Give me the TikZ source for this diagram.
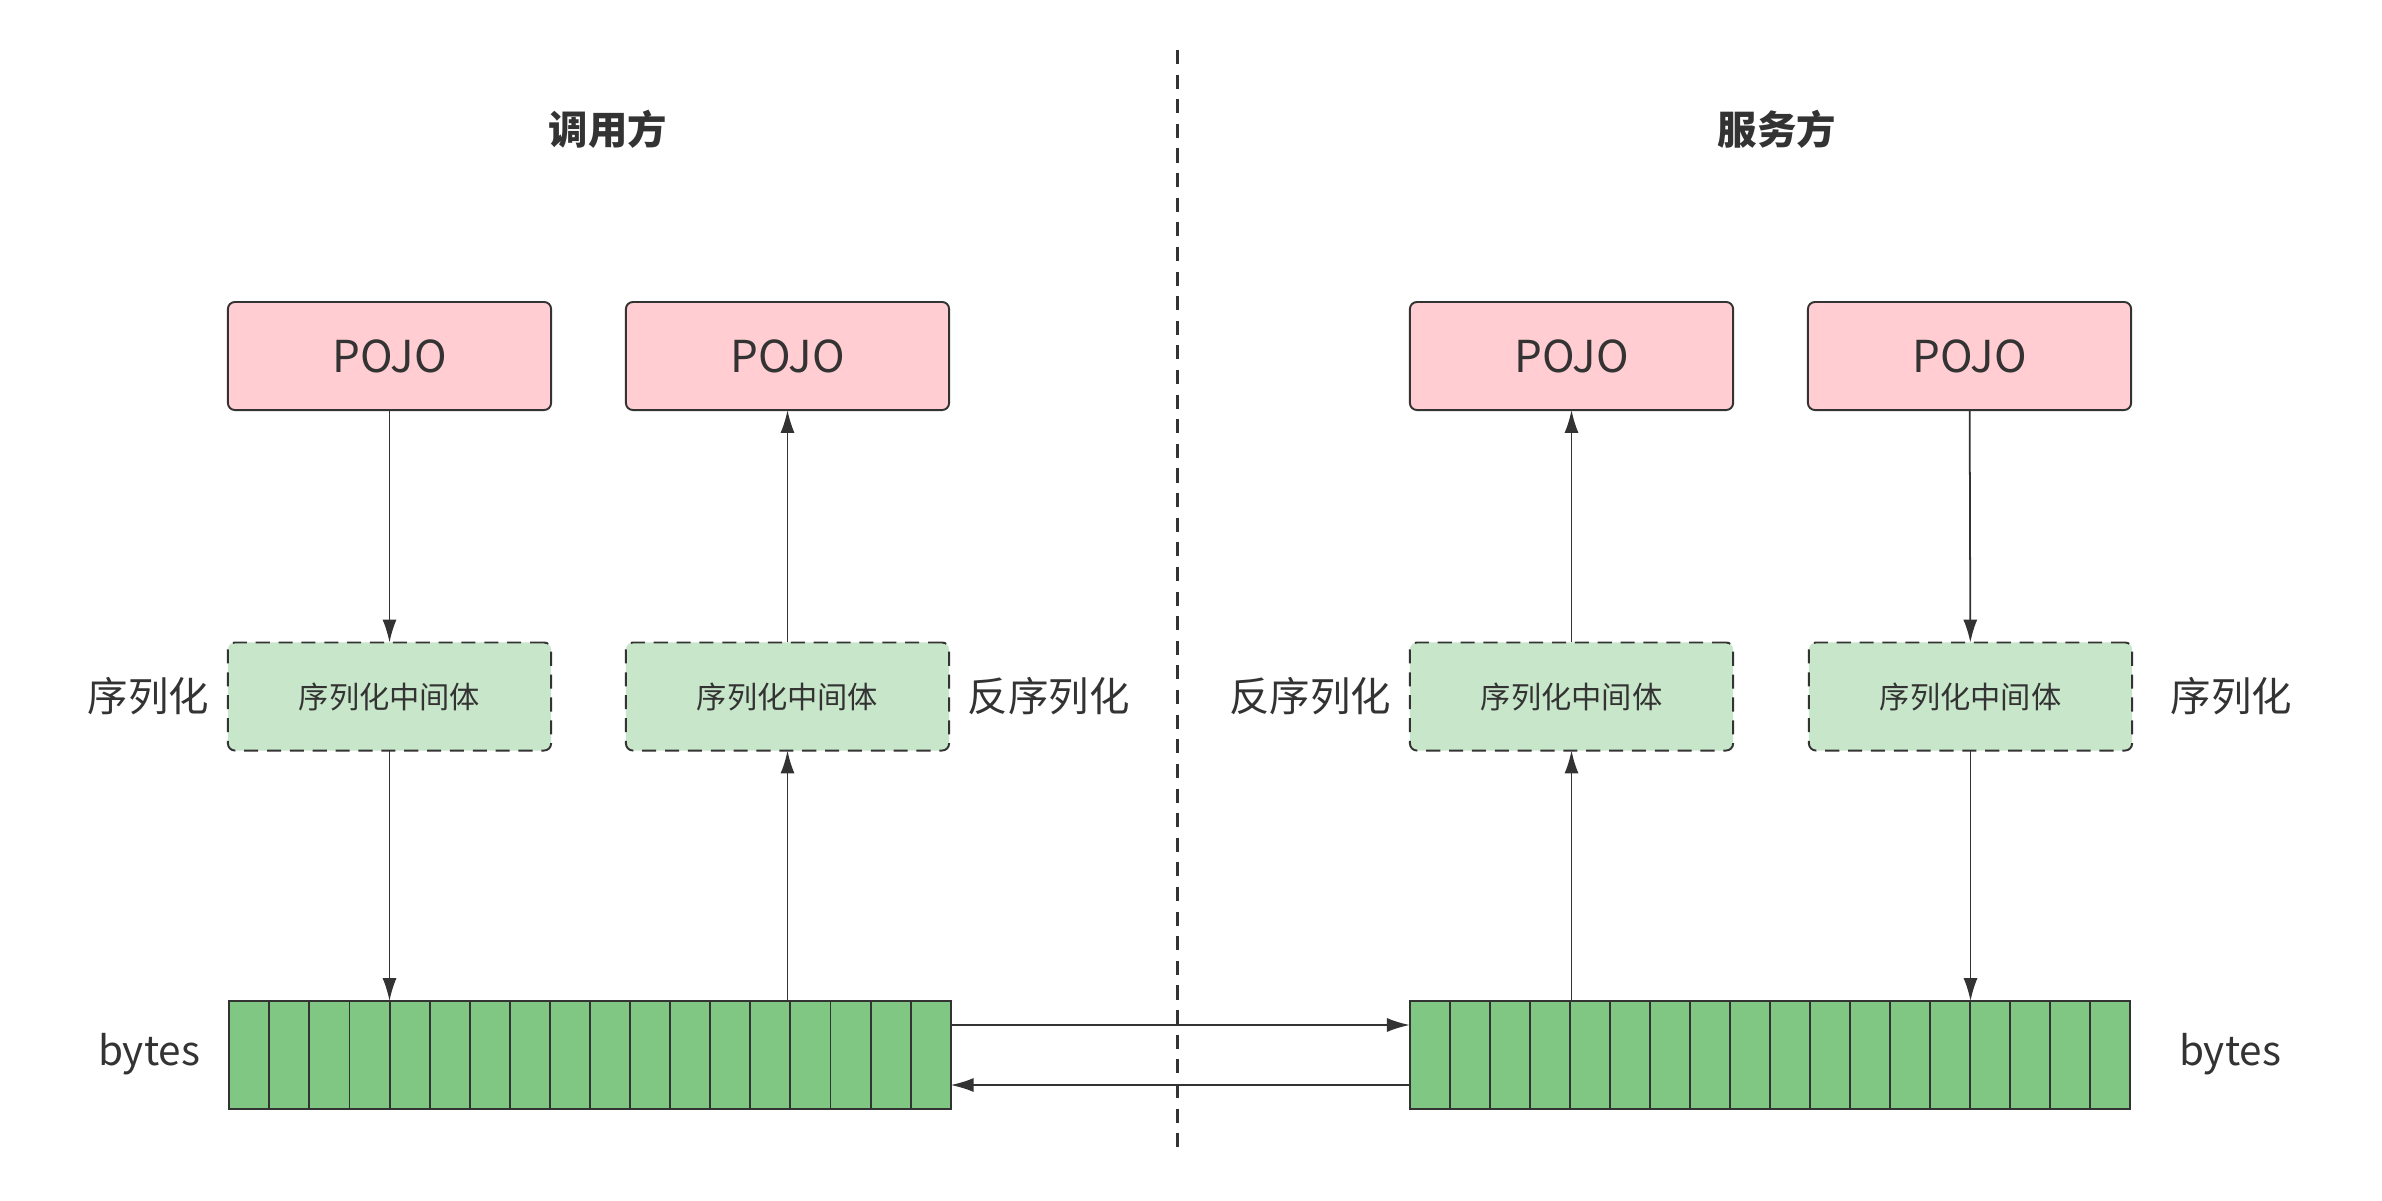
\documentclass[tikz,border=0pt]{standalone}
\usepackage{fontspec}
\setmainfont{Noto Sans CJK SC}
\usetikzlibrary{arrows.meta,positioning,calc}

\definecolor{pojopink}{HTML}{FFCDD2}
\definecolor{midgreen}{HTML}{C8E6C9}
\definecolor{bytegreen}{HTML}{81C784}
\definecolor{inkgray}{HTML}{333333}

\begin{document}
\begin{tikzpicture}[x=0.01cm,y=-0.01cm,every node/.style={text=inkgray,outer sep=0pt}]
\tikzstyle{pojo}=[draw=inkgray,fill=pojopink,rounded corners=2pt,line width=0.55pt,minimum width=3.23cm,minimum height=1.08cm,font=\fontsize{12.5}{14}\selectfont]
\tikzstyle{mid}=[draw=inkgray,fill=midgreen,rounded corners=2pt,line width=0.55pt,dash pattern=on 4pt off 2.5pt,minimum width=3.23cm,minimum height=1.08cm,font=\fontsize{8.6}{10}\selectfont]
\tikzstyle{bytes}=[draw=inkgray,fill=bytegreen,line width=0.55pt,minimum width=7.21cm,minimum height=1.08cm,inner sep=0pt]
\tikzstyle{side}=[font=\fontsize{11.5}{13}\selectfont]
\tikzstyle{title}=[font=\fontsize{11.2}{13}\selectfont\bfseries]
\tikzstyle{conn}=[draw=inkgray,line width=0.5pt,-{Latex[length=6.5pt,width=4pt]}]

\useasboundingbox (0,0) rectangle (2382,1200);

% headings and the divider
\node (caller) [title] at (608,129) {调用方};
\node (server) [title] at (1777,129) {服务方};
\coordinate (divtop) at (1177,50);
\coordinate (divbot) at (1177,1147);
\draw [inkgray,line width=0.85pt,dash pattern=on 4pt off 3pt] (divtop) -- (divbot);

% caller side
\node (pojoA) [pojo] at (389.5,356) {POJO};
\node (pojoB) [pojo] at (787.5,356) {POJO};
\node (midA) [mid] at (389.5,696.5) {序列化中间体};
\node (midB) [mid] at (787.5,696.5) {序列化中间体};
\node (bytesL) [bytes] at (590,1055) {};
\foreach \i in {1,...,17}
  \draw [inkgray,line width=0.55pt] ($(bytesL.south west)!\i/18!(bytesL.south east)$) -- ($(bytesL.north west)!\i/18!(bytesL.north east)$);

\node (serA) [side,left=0.07cm of midA] {序列化};
\node (deserA) [side,right=0.07cm of midB] {反序列化};
\node (bytesLtxt) [side] at (149,1054) {bytes};

% server side
\node (pojoC) [pojo] at (1571.5,356) {POJO};
\node (pojoD) [pojo] at (1969.5,356) {POJO};
\node (midC) [mid] at (1571.5,696.5) {序列化中间体};
\node (midD) [mid] at (1970.5,696.5) {序列化中间体};
\node (bytesR) [bytes,minimum width=7.2cm] at (1770,1055) {};
\foreach \i in {1,...,17}
  \draw [inkgray,line width=0.55pt] ($(bytesR.south west)!\i/18!(bytesR.south east)$) -- ($(bytesR.north west)!\i/18!(bytesR.north east)$);

\node (deserC) [side,left=0.07cm of midC] {反序列化};
\node (serD) [side,right=0.27cm of midD] {序列化};
\node (bytesRtxt) [side] at (2230,1054) {bytes};

% connectors
\draw [conn] (pojoA) -- (midA);
\draw [conn] (midA) -- (midA |- bytesL.north);
\draw [conn] (midB |- bytesL.north) -- (midB);
\draw [conn] (midB) -- (pojoB);
\draw [conn] (midC |- bytesR.north) -- (midC);
\draw [conn] (midC) -- (pojoC);
\draw [conn] (pojoD) -- (midD);
\draw [conn] (midD) -- (midD |- bytesR.north);

\draw [conn] ($(bytesL.east)+(0,-30)$) -- ($(bytesR.west)+(0,-30)$);
\draw [conn] ($(bytesR.west)+(0,30)$) -- ($(bytesL.east)+(0,30)$);
\end{tikzpicture}
\end{document}
